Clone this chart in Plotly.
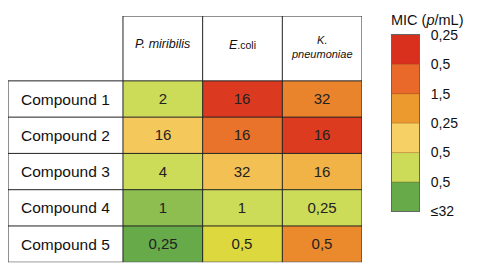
import plotly.graph_objects as go

# ---- data ----
compounds = ["Compound 1", "Compound 2", "Compound 3", "Compound 4", "Compound 5"]
organisms = ["<i>P. miribilis</i>",
             "<i>E</i><span style='font-size:10.5px;color:#111'>.coli</span>",
             "<i>K.<br>pneumoniae</i>"]
mic_text = [["2", "16", "32"],
            ["16", "16", "16"],
            ["4", "32", "16"],
            ["1", "1", "0,25"],
            ["0,25", "0,5", "0,5"]]
# colour level of each cell (0 = green ... 5 = red)
mic_level = [[1.0, 4.85, 3.45],
             [2.15, 3.8, 4.8],
             [1.0, 2.3, 2.55],
             [0.4, 1.0, 1.0],
             [0.0, 1.5, 3.35]]
legend_levels = [5, 4, 3, 2, 1, 0]
legend_labels = ["0,25", "0,5", "1,5", "0,25", "0,5", "0,5", "≤32"]
level_colors = ["#66aa4a", "#cddc58", "#f6d064", "#ec9a2e", "#e8692a", "#d9301e"]

FONT = "Liberation Sans, Arial, sans-serif"
# the page body adds an 8px margin, so the figure is 8px smaller than the window
W, H = 472, 266
label_w = 1.443   # width of row-label column in cell units
header_h = 1.788  # height of header row in cell units

nrow, ncol = len(compounds), len(organisms)
nlev = len(level_colors) - 1
cscale = [[i / nlev, c] for i, c in enumerate(level_colors)]
cscale.insert(2, [1.5 / nlev, "#dcd83e"])  # saturated yellow between bands 1 and 2

fig = go.Figure()
fig.add_trace(go.Heatmap(
    z=mic_level, x=[j + 0.5 for j in range(ncol)], y=[i + 0.5 for i in range(nrow)],
    text=mic_text, texttemplate="%{text}",
    textfont=dict(family=FONT, size=15, color="#222"),
    colorscale=cscale, zmin=0, zmax=5, showscale=False, hoverinfo="skip",
    xaxis="x", yaxis="y"))

fig.add_trace(go.Heatmap(
    z=[[v] for v in legend_levels], x=[0.5], y=[i + 0.5 for i in range(len(legend_levels))],
    colorscale=cscale, zmin=0, zmax=5, showscale=False, hoverinfo="skip",
    xaxis="x2", yaxis="y2"))

shapes = []
line = dict(color="#222", width=1)
shadow = dict(color="#c4c4c4", width=1.5)
# soft shadow along bottom and right edges
shapes.append(dict(type="line", xref="x", yref="y", x0=-label_w, x1=ncol + 0.02, y0=nrow + 0.05, y1=nrow + 0.05, line=shadow))
shapes.append(dict(type="line", xref="x", yref="y", x0=ncol + 0.02, x1=ncol + 0.02, y0=-header_h, y1=nrow + 0.05, line=shadow))
# vertical lines
for j in range(ncol + 1):
    shapes.append(dict(type="line", xref="x", yref="y", x0=j, x1=j, y0=-header_h, y1=nrow, line=line))
shapes.append(dict(type="line", xref="x", yref="y", x0=-label_w, x1=-label_w, y0=0, y1=nrow, line=line))
# horizontal lines
for i in range(nrow + 1):
    shapes.append(dict(type="line", xref="x", yref="y", x0=-label_w, x1=ncol, y0=i, y1=i, line=line))
shapes.append(dict(type="line", xref="x", yref="y", x0=0, x1=ncol, y0=-header_h, y1=-header_h, line=line))
# legend separators
for k in range(1, len(legend_levels)):
    shapes.append(dict(type="line", xref="x2", yref="y2", x0=0, x1=1, y0=k, y1=k,
                       line=dict(color="rgba(120,60,30,0.35)", width=1)))

ann = []
for i, c in enumerate(compounds):
    ann.append(dict(x=-label_w / 2, y=i + 0.5, xref="x", yref="y", text=c, showarrow=False,
                    font=dict(family=FONT, size=15.5, color="#111")))
hdr_sizes = [12.5, 12.5, 11]
hdr_y = [-1.03, -1.0, -0.93]
for j, o in enumerate(organisms):
    ann.append(dict(x=j + 0.5, y=hdr_y[j], xref="x", yref="y", text=o, showarrow=False,
                    font=dict(family=FONT, size=hdr_sizes[j], color="#111")))
ann.append(dict(x=382 / W, y=1 - 4 / H, xref="paper", yref="paper", xanchor="left", yanchor="middle",
                text="MIC (<i>p</i>/mL)", showarrow=False, borderpad=0,
                font=dict(family=FONT, size=14.5, color="#111")))

fig.update_layout(
    width=W, height=H, margin=dict(l=0, r=0, t=0, b=0),
    paper_bgcolor="white", plot_bgcolor="white",
    shapes=shapes, annotations=ann, showlegend=False,
    xaxis=dict(domain=[0, 354 / W], range=[-label_w, ncol], visible=False, fixedrange=True),
    yaxis=dict(domain=[1 - 262 / H, 1], range=[nrow, -header_h], visible=False, fixedrange=True),
    xaxis2=dict(domain=[384 / W, 411 / W], range=[0, 1], anchor="y2", showticklabels=False,
                showgrid=False, zeroline=False, showline=True, mirror=True, linecolor="#666", linewidth=1,
                ticks=""),
    yaxis2=dict(domain=[1 - 208 / H, 1 - 20 / H], range=[len(legend_levels), 0], anchor="x2", side="right",
                tickmode="array", tickvals=list(range(len(legend_labels))), ticktext=legend_labels,
                ticks="", ticklabelstandoff=8, showgrid=False, zeroline=False,
                showline=True, mirror=True, linecolor="#666", linewidth=1,
                tickfont=dict(family=FONT, size=14, color="#111")),
)

fig.write_html("out.html")
